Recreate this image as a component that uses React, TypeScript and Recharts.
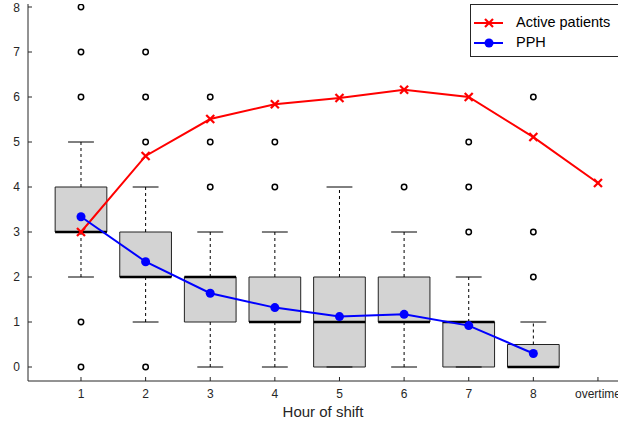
import React from 'react';
import { ComposedChart, Line, Scatter, XAxis, YAxis, ReferenceArea, ReferenceLine } from 'recharts';

// box plot per hour of shift
const hours = [1, 2, 3, 4, 5, 6, 7, 8];
const whiskerLow = [2, 1, 0, 0, 0, 0, 0, 0];
const q1 = [3, 2, 1, 1, 0, 1, 0, 0];
const median = [3, 2, 2, 1, 1, 1, 1, 0];
const q3 = [4, 3, 2, 2, 2, 2, 1, 0.5];
const whiskerHigh = [5, 4, 3, 3, 4, 3, 2, 1];
const outliers = [[0, 1, 6, 7, 8], [0, 5, 6, 7], [4, 5, 6], [4, 5], [], [4], [3, 4, 5], [2, 3, 6]];

// line series
const xTicks = [1, 2, 3, 4, 5, 6, 7, 8, 9];
const xTickLabels = ['1', '2', '3', '4', '5', '6', '7', '8', 'overtime'];
const activePatients = [3.0, 4.69, 5.51, 5.84, 5.98, 6.16, 6.0, 5.11, 4.09];
const pph = [3.34, 2.34, 1.64, 1.32, 1.12, 1.17, 0.92, 0.3];
const yTicks = [0, 1, 2, 3, 4, 5, 6, 7, 8];

const activeData = xTicks.map((x, i) => ({ x, y: activePatients[i] }));
const pphData = hours.map((x, i) => ({ x, y: pph[i] }));
const outlierData = hours.flatMap((h, i) => outliers[i].map((v) => ({ x: h, y: v })));

const FONT = '"Liberation Sans", Arial, Helvetica, sans-serif';
const AXIS = '#262626';
const RED = '#ff0000';
const BLUE = '#0000ff';

const CrossDot = (p: any) => {
  const { cx, cy } = p;
  if (cx == null || cy == null) return null;
  const s = 4;
  return (
    <g key={`c${cx}`}>
      <line x1={cx - s} y1={cy - s} x2={cx + s} y2={cy + s} stroke={RED} strokeWidth={2.2} />
      <line x1={cx - s} y1={cy + s} x2={cx + s} y2={cy - s} stroke={RED} strokeWidth={2.2} />
    </g>
  );
};

const BlueDot = (p: any) => {
  const { cx, cy } = p;
  if (cx == null || cy == null) return null;
  return <circle key={`b${cx}`} cx={cx} cy={cy} r={4.5} fill={BLUE} />;
};

const OutlierShape = (p: any) => (
  <circle cx={p.cx} cy={p.cy} r={2.7} fill="none" stroke="#000" strokeWidth={1.5} />
);

const LegendBox = () => (
  <div
    style={{
      position: 'absolute',
      left: 470,
      top: 4,
      width: 150,
      height: 53,
      border: `1px solid ${AXIS}`,
      background: '#fff',
      fontFamily: FONT,
      fontSize: 14.5,
      color: '#000',
      boxSizing: 'border-box',
    }}
  >
    <svg width={40} height={52} style={{ position: 'absolute', left: 0, top: 0 }}>
      <line x1={3} y1={18} x2={32} y2={18} stroke={RED} strokeWidth={2} />
      <line x1={14} y1={14} x2={22} y2={22} stroke={RED} strokeWidth={2.2} />
      <line x1={14} y1={22} x2={22} y2={14} stroke={RED} strokeWidth={2.2} />
      <line x1={3} y1={38} x2={32} y2={38} stroke={BLUE} strokeWidth={2} />
      <circle cx={18} cy={38} r={4.5} fill={BLUE} />
    </svg>
    <div style={{ position: 'absolute', left: 45, top: 9, lineHeight: '16px' }}>Active patients</div>
    <div style={{ position: 'absolute', left: 45, top: 29, lineHeight: '16px' }}>PPH</div>
  </div>
);

export default function App() {
  return (
    <div
      style={{
        position: 'absolute',
        left: 0,
        top: 0,
        width: 618,
        height: 423,
        overflow: 'hidden',
        background: '#fff',
        fontFamily: FONT,
      }}
    >
      <ComposedChart width={640} height={423} margin={{ top: 4, right: 22, bottom: 0, left: 0 }}>
        <XAxis
          dataKey="x"
          type="number"
          domain={[0.18, 9.31]}
          ticks={xTicks}
          tickFormatter={(v: number) => xTickLabels[v - 1]}
          allowDataOverflow
          height={42}
          tickSize={-4}
          tickMargin={12}
          stroke={AXIS}
          tick={{ fill: AXIS, fontSize: 12, fontFamily: FONT }}
          label={{ value: 'Hour of shift', position: 'insideBottom', offset: 6, fill: AXIS, fontSize: 15, fontFamily: FONT }}
        />
        <XAxis
          xAxisId="top"
          orientation="top"
          dataKey="x"
          type="number"
          domain={[0.18, 9.31]}
          height={0}
          tick={false}
          tickLine={false}
          stroke={AXIS}
        />
        <YAxis
          type="number"
          domain={[-0.311, 8.067]}
          ticks={yTicks}
          allowDataOverflow
          width={28}
          tickSize={-4}
          tickMargin={12}
          stroke={AXIS}
          tick={{ fill: AXIS, fontSize: 12, fontFamily: FONT }}
        />
        {hours.map((h, i) => (
          <ReferenceArea
            key={`box${h}`}
            x1={h - 0.4}
            x2={h + 0.4}
            y1={q1[i]}
            y2={q3[i]}
            fill="#d3d3d3"
            fillOpacity={1}
            stroke="#222"
            strokeWidth={1}
          />
        ))}
        {hours.map((h, i) => (
          <ReferenceLine
            key={`wu${h}`}
            segment={[{ x: h, y: q3[i] }, { x: h, y: whiskerHigh[i] }]}
            stroke="#000"
            strokeDasharray="3 3"
          />
        ))}
        {hours.map((h, i) => (
          <ReferenceLine
            key={`wl${h}`}
            segment={[{ x: h, y: q1[i] }, { x: h, y: whiskerLow[i] }]}
            stroke="#000"
            strokeDasharray="3 3"
          />
        ))}
        {hours.map((h, i) => (
          <ReferenceLine
            key={`cu${h}`}
            segment={[{ x: h - 0.2, y: whiskerHigh[i] }, { x: h + 0.2, y: whiskerHigh[i] }]}
            stroke="#000"
          />
        ))}
        {hours.map((h, i) => (
          <ReferenceLine
            key={`cl${h}`}
            segment={[{ x: h - 0.2, y: whiskerLow[i] }, { x: h + 0.2, y: whiskerLow[i] }]}
            stroke="#000"
          />
        ))}
        {hours.map((h, i) => (
          <ReferenceLine
            key={`md${h}`}
            segment={[{ x: h - 0.4, y: median[i] }, { x: h + 0.4, y: median[i] }]}
            stroke="#000"
            strokeWidth={2.5}
          />
        ))}
        <Scatter data={outlierData} dataKey="y" shape={OutlierShape} isAnimationActive={false} />
        <Line
          data={activeData}
          dataKey="y"
          stroke={RED}
          strokeWidth={2}
          dot={CrossDot}
          activeDot={false}
          isAnimationActive={false}
        />
        <Line
          data={pphData}
          dataKey="y"
          stroke={BLUE}
          strokeWidth={2}
          dot={BlueDot}
          activeDot={false}
          isAnimationActive={false}
        />
      </ComposedChart>
      <LegendBox />
    </div>
  );
}
